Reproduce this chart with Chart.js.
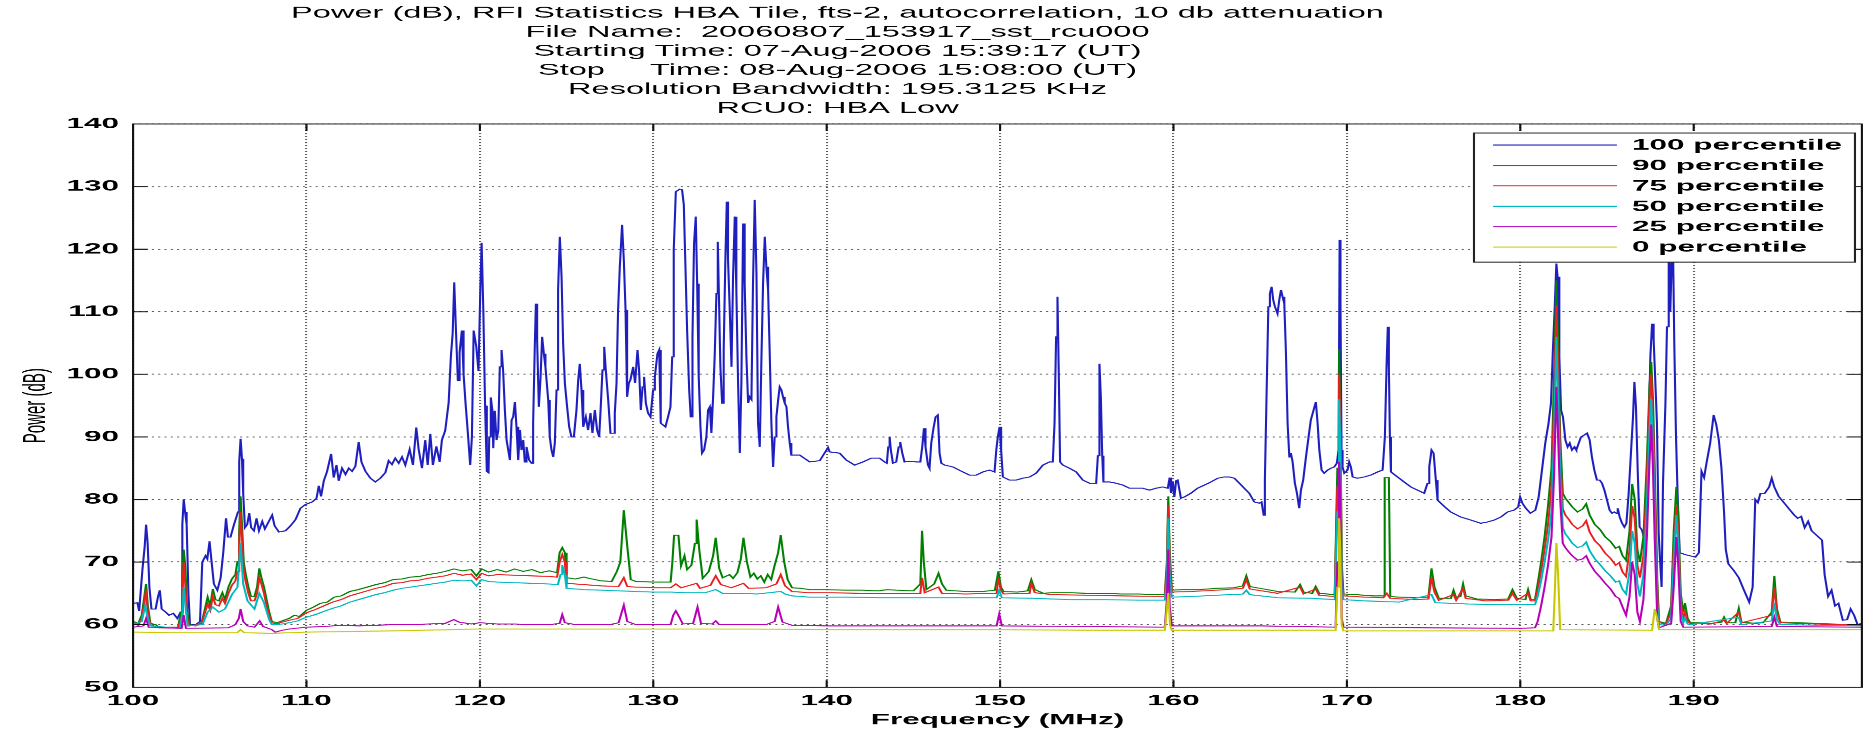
<!DOCTYPE html>
<html lang="en">
<head>
  <meta charset="UTF-8">
  <title>RFI Statistics HBA Tile - RCU0</title>
  <script src="https://cdn.jsdelivr.net/npm/chart.js@4/dist/chart.umd.min.js"></script>
  <style>
    html, body { margin: 0; padding: 0; background: #fff; overflow: hidden; }
    #stage { position: absolute; left: 0; top: 0; width: 888px; height: 731px; transform-origin: 0 0; }
  </style>
</head>
<body>
  <div id="stage"><canvas id="chart" width="888" height="731"></canvas></div>

  <script>
    // Figure is laid out at 888 px and widened to the 1864 px window
    var STAGE_W = 888;
    var STRETCH = 1864 / STAGE_W;
    var FONT = '"Liberation Sans", Arial, Helvetica, sans-serif';

    var titleLines = [
      "Power (dB), RFI Statistics HBA Tile, fts-2, autocorrelation, 10 db attenuation",
      "File Name:  20060807_153917_sst_rcu000",
      "Starting Time: 07-Aug-2006 15:39:17 (UT)",
      "Stop     Time: 08-Aug-2006 15:08:00 (UT)",
      "Resolution Bandwidth: 195.3125 KHz",
      "RCU0: HBA Low"
    ];
    var xTitle = "Frequency (MHz)";
    var yTitle = "Power (dB)";
    var seriesLabels = ["100 percentile", "90 percentile", "75 percentile", "50 percentile", "25 percentile", "0 percentile"];
    var seriesColors = ["#1f1fbf", "#008000", "#e82020", "#00b8c0", "#b800b8", "#c8c800"];

    // [frequency MHz, power dB]
    var p100 = [
      [100.00,63.4],[100.25,63.5],[100.35,62.2],[100.54,68.8],[100.67,72.5],[100.75,76.0],[100.84,73.0],[100.94,66.0],[101.06,62.5],[101.3,62.5],
      [101.44,64.5],[101.54,65.5],[101.65,62.5],[101.88,62.0],[102.07,61.5],[102.32,61.8],[102.55,61.0],[102.74,62.0],[102.84,76.0],[102.92,80.0],
      [103.0,78.0],[103.09,76.0],[103.19,65.0],[103.28,60.0],[103.61,60.0],[103.86,60.5],[103.99,70.0],[104.18,71.0],[104.28,70.5],[104.41,73.3],
      [104.53,70.0],[104.66,66.5],[104.86,65.5],[105.05,67.5],[105.2,71.5],[105.36,77.0],[105.47,74.0],[105.62,74.0],[105.82,76.0],[106.05,78.0],
      [106.12,86.0],[106.2,89.7],[106.28,86.5],[106.35,81.0],[106.45,75.5],[106.58,76.0],[106.7,77.8],[106.81,75.5],[106.97,75.0],[107.12,77.0],
      [107.26,75.0],[107.45,76.5],[107.6,75.3],[107.83,76.5],[108.02,77.5],[108.16,75.8],[108.41,74.8],[108.79,75.0],[109.08,75.8],[109.37,76.8],
      [109.65,78.6],[109.94,79.2],[110.33,79.6],[110.58,80.2],[110.71,82.2],[110.84,80.5],[111.0,83.0],[111.19,84.5],[111.42,87.3],[111.57,83.5],
      [111.73,85.5],[111.86,83.0],[112.05,85.0],[112.25,84.0],[112.44,85.0],[112.63,84.5],[112.82,85.3],[113.01,89.2],[113.17,86.0],[113.4,84.5],
      [113.69,83.4],[113.97,82.8],[114.26,83.4],[114.55,84.3],[114.74,86.2],[114.93,85.6],[115.12,86.6],[115.32,85.8],[115.51,86.8],[115.7,85.5],
      [115.95,88.0],[116.14,85.5],[116.33,91.5],[116.47,88.0],[116.66,85.0],[116.85,89.5],[116.99,85.5],[117.14,90.5],[117.29,85.5],[117.49,88.5],
      [117.68,86.0],[117.81,89.5],[118.0,91.0],[118.2,95.5],[118.33,103.0],[118.43,106.5],[118.52,114.7],[118.62,107.0],[118.73,99.0],[118.83,103.5],
      [118.96,107.0],[119.06,100.0],[119.17,95.5],[119.31,90.5],[119.44,85.5],[119.54,90.0],[119.64,107.0],[119.79,104.5],[119.92,100.5],[120.02,113.0],
      [120.1,121.0],[120.2,110.0],[120.3,95.0],[120.4,84.5],[120.5,84.3],[120.54,90.0],[120.63,96.3],[120.73,94.0],[120.77,88.2],[120.86,94.2],
      [120.96,89.5],[121.06,91.0],[121.15,101.2],[121.25,103.9],[121.34,100.6],[121.44,94.3],[121.54,89.5],[121.63,88.0],[121.73,86.3],[121.83,92.7],
      [121.92,93.2],[122.02,95.6],[122.11,91.6],[122.21,86.3],[122.31,91.1],[122.4,87.9],[122.5,89.5],[122.59,86.0],[122.69,88.4],[122.84,86.3],
      [122.98,85.8],[123.07,92.2],[123.17,104.9],[123.23,111.3],[123.3,105.5],[123.4,94.8],[123.5,99.6],[123.59,106.0],[123.69,103.3],[123.78,101.2],
      [123.94,95.9],[124.03,90.0],[124.13,87.9],[124.23,86.8],[124.32,89.0],[124.42,97.5],[124.51,113.5],[124.61,122.0],[124.71,115.6],[124.8,105.0],
      [124.9,98.6],[125.03,94.8],[125.15,91.6],[125.28,90.0],[125.42,90.0],[125.57,94.3],[125.67,99.1],[125.76,101.7],[125.86,97.5],[125.96,91.6],
      [126.11,93.2],[126.24,91.1],[126.38,93.8],[126.49,90.6],[126.63,94.3],[126.76,91.1],[126.88,90.0],[126.97,94.8],[127.07,100.7],[127.17,104.4],
      [127.26,100.7],[127.4,95.9],[127.53,90.6],[127.68,90.6],[127.78,93.8],[127.88,98.6],[127.97,110.3],[128.07,117.2],[128.2,123.9],[128.3,118.3],
      [128.4,110.3],[128.49,96.4],[128.59,98.6],[128.68,99.1],[128.84,101.2],[128.95,98.6],[129.09,103.9],[129.18,100.7],[129.28,94.3],[129.38,98.0],
      [129.47,99.6],[129.57,95.4],[129.7,93.8],[129.84,93.2],[129.99,97.5],[130.09,99.6],[130.24,103.3],[130.34,103.9],[130.43,92.2],[130.57,91.9],
      [130.7,91.6],[130.85,93.2],[130.99,94.8],[131.09,102.8],[131.18,119.9],[131.3,129.2],[131.53,129.6],[131.66,129.5],[131.76,127.1],[131.85,117.7],
      [131.95,107.1],[132.07,97.5],[132.16,93.2],[132.26,106.0],[132.35,120.9],[132.45,125.2],[132.53,114.5],[132.62,99.6],[132.72,91.6],[132.81,87.4],
      [132.93,87.9],[133.06,90.0],[133.16,94.3],[133.26,94.8],[133.35,90.6],[133.45,96.4],[133.54,102.8],[133.64,112.9],[133.72,121.2],[133.79,111.9],
      [133.87,101.2],[133.97,95.4],[134.06,103.9],[134.16,118.8],[134.24,127.6],[134.31,118.3],[134.41,110.3],[134.51,101.2],[134.6,115.6],[134.7,125.2],
      [134.79,113.5],[134.89,98.6],[134.99,87.4],[135.08,98.6],[135.18,124.1],[135.27,114.5],[135.37,102.8],[135.47,95.4],[135.56,96.4],[135.66,96.0],
      [135.75,114.5],[135.85,127.9],[135.95,116.1],[136.04,92.2],[136.14,88.4],[136.23,101.7],[136.33,114.5],[136.43,122.0],[136.52,117.2],[136.62,113.5],
      [136.71,103.9],[136.81,92.2],[136.91,85.2],[137.0,90.0],[137.1,93.2],[137.2,95.9],[137.29,98.0],[137.39,97.5],[137.48,96.4],[137.58,95.4],
      [137.68,94.8],[137.77,91.6],[137.87,89.0],[137.96,87.1],[138.44,87.1],[139.02,86.0],[139.6,86.2],[140.08,88.3],[140.17,87.6],[140.75,87.4],
      [141.13,86.3],[141.61,85.5],[142.09,86.0],[142.57,86.6],[143.05,86.6],[143.34,86.0],[143.47,85.8],[143.55,88.4],[143.63,90.0],[143.7,87.9],
      [143.82,85.8],[144.01,86.0],[144.15,88.4],[144.24,89.2],[144.36,87.4],[144.49,86.0],[144.78,86.1],[145.17,86.0],[145.4,86.0],[145.51,88.4],
      [145.61,91.4],[145.7,88.4],[145.84,85.5],[145.93,85.0],[146.03,89.0],[146.16,91.4],[146.28,93.2],[146.41,93.5],[146.51,87.4],[146.61,85.8],
      [146.8,85.5],[147.28,85.2],[147.85,84.4],[148.24,83.9],[148.62,83.9],[149.01,84.4],[149.39,84.7],[149.68,84.4],[149.78,87.9],[149.87,90.0],
      [149.97,91.6],[150.06,87.9],[150.16,83.6],[150.54,83.1],[150.93,83.1],[151.31,83.4],[151.7,83.6],[152.08,84.2],[152.47,85.5],[152.85,86.0],
      [153.04,86.0],[153.14,92.2],[153.23,106.0],[153.31,112.4],[153.39,99.1],[153.46,86.0],[153.62,85.5],[154.0,85.0],[154.39,84.4],[154.77,83.1],
      [155.16,82.6],[155.54,82.6],[155.64,87.0],[155.73,101.7],[155.81,96.4],[155.89,87.0],[155.96,82.8],[156.31,82.8],[156.69,82.6],[157.08,82.3],
      [157.46,81.8],[157.85,81.8],[158.23,81.8],[158.61,81.5],[159.0,81.8],[159.38,82.0],[159.67,81.8],[159.78,83.5],[159.86,81.0],[159.96,82.8],
      [160.05,80.4],[160.15,83.0],[160.24,83.1],[160.43,80.2],[160.62,80.4],[161.0,81.0],[161.39,81.8],[161.78,82.3],[162.16,82.8],[162.55,83.4],
      [162.93,83.6],[163.22,83.6],[163.51,83.4],[163.8,82.6],[164.08,81.8],[164.37,81.0],[164.66,79.6],[164.95,79.4],[165.08,79.6],[165.2,77.5],
      [165.27,83.1],[165.35,94.3],[165.47,110.8],[165.56,112.9],[165.66,114.0],[165.75,111.9],[165.85,110.8],[166.0,109.7],[166.1,111.9],[166.2,113.5],
      [166.29,112.4],[166.39,111.3],[166.48,103.9],[166.58,92.2],[166.68,86.8],[166.77,87.4],[166.87,86.0],[167.0,82.6],[167.12,81.0],[167.25,78.6],
      [167.35,81.5],[167.48,83.1],[167.64,86.8],[167.79,90.0],[167.92,92.7],[168.08,94.3],[168.21,95.6],[168.31,92.2],[168.41,87.9],[168.54,84.7],
      [168.69,84.2],[168.89,84.7],[169.08,85.0],[169.27,85.2],[169.42,85.8],[169.52,87.9],[169.58,121.5],[169.63,111.3],[169.69,87.9],[169.75,85.2],
      [169.85,84.2],[170.04,84.7],[170.13,86.0],[170.23,85.2],[170.33,83.6],[170.61,83.4],[171.0,83.6],[171.38,83.9],[171.77,84.4],[172.06,84.7],
      [172.19,90.0],[172.29,101.7],[172.36,107.6],[172.42,101.2],[172.48,90.0],[172.54,84.4],[172.92,83.6],[173.3,82.8],[173.69,82.0],[174.07,81.5],
      [174.46,81.0],[174.65,82.6],[174.75,85.2],[174.88,87.9],[175.0,87.4],[175.13,83.1],[175.23,79.9],[175.61,78.9],[175.99,78.0],[176.57,77.2],
      [177.15,76.7],[177.72,76.2],[178.11,76.4],[178.49,76.7],[178.88,77.2],[179.26,78.0],[179.64,78.3],[179.88,78.8],[179.99,80.4],[180.12,79.4],
      [180.32,78.6],[180.58,77.8],[180.87,78.3],[181.06,80.4],[181.25,84.7],[181.44,89.0],[181.63,92.2],[181.77,95.4],[181.88,103.9],[181.98,110.3],
      [182.08,117.7],[182.15,115.6],[182.25,102.8],[182.35,94.3],[182.46,93.2],[182.6,89.5],[182.73,88.4],[182.85,89.0],[182.98,87.9],[183.12,88.4],
      [183.23,87.9],[183.37,89.0],[183.5,90.0],[183.69,90.3],[183.85,90.6],[184.0,89.5],[184.13,86.8],[184.27,84.7],[184.42,83.1],[184.58,83.1],
      [184.71,82.6],[184.85,81.5],[185.0,79.9],[185.15,78.3],[185.29,77.8],[185.42,78.0],[185.54,77.8],[185.62,78.6],[185.73,77.2],[185.87,76.2],
      [186.0,75.6],[186.12,76.2],[186.25,81.0],[186.38,87.4],[186.5,93.2],[186.58,98.8],[186.67,94.8],[186.77,84.7],[186.88,75.6],[187.02,75.1],
      [187.12,74.1],[187.21,77.2],[187.31,80.4],[187.4,90.6],[187.5,102.8],[187.6,108.1],[187.69,105.5],[187.79,98.6],[187.88,92.2],[187.98,74.6],
      [188.08,69.3],[188.15,66.0],[188.23,82.6],[188.37,95.4],[188.46,107.6],[188.56,124.0],[188.65,110.0],[188.79,124.0],[188.88,105.0],[188.98,90.0],
      [189.08,80.0],[189.19,71.5],[189.5,71.2],[189.8,71.0],[190.1,70.8],[190.3,71.5],[190.45,84.5],[190.6,83.5],[190.75,86.0],[190.95,89.0],
      [191.15,93.5],[191.3,92.0],[191.45,89.5],[191.6,85.0],[191.75,78.0],[191.85,72.0],[192.0,69.7],[192.3,68.7],[192.6,67.5],[192.9,65.5],
      [193.2,63.6],[193.4,66.0],[193.55,80.0],[193.7,79.5],[193.85,81.0],[194.1,81.0],[194.35,82.0],[194.5,83.4],[194.65,82.0],[194.9,80.5],
      [195.2,79.5],[195.5,78.5],[195.8,77.5],[196.0,77.0],[196.2,77.3],[196.4,75.5],[196.6,76.5],[196.8,75.0],[197.0,74.5],[197.2,74.0],
      [197.4,73.5],[197.55,68.0],[197.75,64.5],[197.95,65.5],[198.15,63.0],[198.35,63.4],[198.6,60.7],[198.85,60.8],[199.05,62.5],[199.25,61.5],
      [199.45,60.0],[199.7,60.2]
    ];

    var p90 = [
      [100,60.5],[100.3,60.2],[100.5,61.5],[100.65,64.5],[100.75,66.5],[100.85,63],[101.0,60.2],[101.3,60],[101.5,59.6],[102.6,59.6],
      [102.75,62],[102.85,68],[102.92,72],[103.02,69],[103.12,62],[103.25,60],[103.6,59.8],[103.95,60.3],[104.1,62],[104.3,64.4],
      [104.45,63],[104.6,65.7],[104.75,64],[104.95,63.8],[105.15,65.1],[105.3,64],[105.5,66],[105.7,67.3],[105.9,68],[106.02,70.1],
      [106.12,75],[106.2,80.5],[106.28,76],[106.38,70],[106.5,68],[106.65,66],[106.8,64.5],[107.0,64.5],[107.15,66],[107.28,69],
      [107.4,67.5],[107.55,66],[107.7,64],[107.85,62],[108.0,60.5],[108.3,60.3],[108.6,60.6],[109.0,61.0],[109.3,61.5],[109.6,61.3],
      [110.0,62.3],[110.4,62.8],[110.8,63.4],[111.2,63.6],[111.6,64.4],[112.0,64.6],[112.5,65.3],[113.0,65.6],[113.5,66.0],[114.0,66.4],
      [114.5,66.7],[115.0,67.2],[115.5,67.3],[116.0,67.6],[116.5,67.7],[117.0,68.0],[117.5,68.2],[118.0,68.5],[118.5,68.9],[119.0,68.6],
      [119.5,68.8],[119.8,67.8],[120.1,68.9],[120.5,68.4],[121.0,68.8],[121.5,68.4],[122.0,68.9],[122.5,68.5],[123.0,68.8],[123.5,68.3],
      [124.0,68.6],[124.45,68.3],[124.6,71.5],[124.75,72.3],[124.9,71.5],[125.0,67.5],[125.5,67.3],[126.0,67.6],[126.3,67.4],[127.0,67.0],
      [127.6,66.9],[127.9,68.5],[128.1,70],[128.3,78.3],[128.5,72.5],[128.7,67.2],[129.0,66.9],[130.0,66.8],[131.0,66.8],[131.1,70],
      [131.2,74.3],[131.45,74.3],[131.6,69.4],[131.8,71],[131.95,68.8],[132.2,69.5],[132.4,73],[132.5,76.8],[132.65,72],[132.85,67.4],
      [133.2,68.5],[133.45,71],[133.6,73.9],[133.8,69],[134.0,67.5],[134.4,68],[134.6,67.4],[134.85,68.3],[135.05,70.5],[135.2,73.9],
      [135.4,70],[135.6,67.6],[135.8,68.2],[136.0,67.3],[136.2,67.8],[136.4,66.8],[136.6,68],[136.8,67.2],[137.0,69.5],[137.2,71.5],
      [137.35,74.3],[137.55,70],[137.75,67.2],[138.0,65.9],[138.5,65.8],[139.0,65.6],[140.0,65.6],[141.0,65.5],[142.0,65.5],[143.0,65.4],
      [143.5,65.6],[144.0,65.5],[145.0,65.4],[145.4,66.5],[145.5,75.0],[145.6,70],[145.75,65.6],[146.2,66.5],[146.45,68.2],[146.65,66.5],
      [146.9,65.5],[148.0,65.3],[149.0,65.3],[149.7,65.5],[149.9,68.5],[150.05,66],[150.2,65.3],[151.0,65.2],[151.6,65.4],[151.8,67.2],
      [152.0,65.6],[152.5,65.0],[153.0,65.1],[154.0,65.1],[155.0,65.0],[156.0,65.0],[157.0,64.9],[158.0,64.9],[159.0,64.8],[159.5,64.8],
      [159.62,70],[159.7,80.5],[159.78,72],[159.9,65.5],[160.5,65.6],[161.5,65.6],[162.5,65.8],[163.5,65.9],[164.0,66.2],[164.2,67.8],
      [164.4,66.1],[165.0,65.8],[166.0,65.3],[167.0,65.2],[167.3,66.4],[167.5,65.2],[168.0,65.0],[168.2,66.1],[168.4,65.0],[169.3,64.8],
      [169.45,85],[169.55,104],[169.62,95],[169.7,70],[169.8,64.9],[170.5,64.8],[171.5,64.6],[172.1,64.6],[172.18,83.5],[172.3,83.5],
      [172.42,83.5],[172.5,64.5],[173.0,64.4],[174.0,64.3],[174.7,64.4],[174.88,69.0],[175.05,66.0],[175.3,64.2],[176.0,64.2],[176.15,65.5],
      [176.3,64.3],[176.55,64.5],[176.7,66.5],[176.85,64.6],[177.5,64.1],[178.5,64.0],[179.3,64.1],[179.55,65.6],[179.8,64.2],[180.3,64.0],
      [180.45,65.6],[180.6,64.0],[180.85,64.0],[181.0,66.5],[181.2,70],[181.4,74],[181.6,79],[181.8,85],[181.95,100],[182.08,115.0],
      [182.18,105],[182.3,90],[182.45,81],[182.6,80.2],[182.8,79.5],[183.0,78.8],[183.3,78.0],[183.6,78.5],[183.8,79.3],[184.0,77.5],
      [184.3,76.0],[184.6,75.2],[184.9,74.0],[185.2,73.3],[185.5,72.2],[185.7,72.5],[185.9,71.0],[186.1,70.3],[186.3,75],[186.45,82.5],
      [186.6,80],[186.75,72],[186.9,70],[187.1,74],[187.3,86],[187.45,98],[187.55,102],[187.65,96],[187.75,85],[187.9,67],
      [188.0,60.5],[188.4,60.2],[188.7,63],[188.85,75],[189.0,82],[189.1,78],[189.25,65],[189.4,62],[189.5,63.4],[189.65,61],
      [189.8,60.3],[190.5,60.3],[191.0,60.2],[191.6,60.4],[191.75,61.2],[191.9,60.3],[192.4,60.3],[192.6,62.6],[192.75,60.4],[193.5,60.2],
      [194.0,60.3],[194.5,62],[194.65,67.8],[194.8,62.5],[195.0,60.4],[196.0,60.3],[197.0,60.2],[198.0,60.1],[199.0,60.0],[199.7,60.0]
    ];

    var p75 = [
      [100,60.2],[100.3,59.9],[100.5,61],[100.65,63.5],[100.75,65.5],[100.85,62],[101.0,60],[101.5,59.5],[102.6,59.5],[102.75,61],
      [102.85,66],[102.92,70],[103.02,66],[103.12,61],[103.25,59.8],[103.95,60.1],[104.1,61.5],[104.3,63.3],[104.45,62.3],[104.6,64.5],
      [104.75,63.2],[104.95,63],[105.15,64.2],[105.3,63.4],[105.5,65],[105.7,66.3],[105.9,67],[106.02,68.5],[106.12,73],[106.2,78],
      [106.28,74],[106.38,68.5],[106.5,66.8],[106.65,65],[106.8,63.8],[107.0,63.8],[107.15,65],[107.28,67.5],[107.4,66.5],[107.55,65],
      [107.7,63],[107.85,61.5],[108.0,60.3],[108.3,60.1],[108.6,60.4],[109.0,60.7],[109.5,61.0],[110.0,61.9],[110.5,62.4],[111.0,63.0],
      [111.5,63.6],[112.0,64.0],[112.5,64.6],[113.0,65.0],[113.5,65.4],[114.0,65.8],[114.5,66.1],[115.0,66.6],[115.5,66.7],[116.0,67.0],
      [116.5,67.1],[117.0,67.4],[117.5,67.6],[118.0,67.8],[118.5,68.2],[119.0,67.9],[119.5,68.1],[119.8,67.2],[120.1,68.2],[120.5,67.8],
      [121.0,68.0],[122.0,67.9],[123.0,67.8],[124.0,67.7],[124.45,67.6],[124.6,70],[124.75,71.2],[124.9,70],[125.0,66.6],[126.0,66.4],
      [127.0,66.2],[128.0,66.1],[128.3,67.5],[128.5,66.1],[129.0,66.0],[130.0,65.9],[131.0,65.9],[131.3,66.5],[131.6,65.9],[132.5,66.6],
      [132.7,65.8],[133.3,66.3],[133.6,67.8],[133.9,66.4],[134.5,65.9],[135.2,66.6],[135.5,65.8],[136.5,65.9],[137.1,66.5],[137.35,68.0],
      [137.6,66.2],[138.0,65.3],[139.0,65.1],[140.0,65.1],[142.0,65.0],[144.0,65.0],[145.4,65.0],[145.5,67.5],[145.65,65.1],[146.45,66.0],
      [146.65,65.0],[148.0,64.9],[149.8,65.0],[149.9,67.5],[150.05,65.5],[150.2,64.9],[151.7,65.0],[151.8,66.6],[152.0,65.1],[153.0,64.8],
      [155.0,64.7],[157.0,64.6],[159.5,64.5],[159.62,69],[159.7,79],[159.78,70],[159.9,65.2],[161.0,65.3],[162.5,65.5],[164.0,65.8],
      [164.2,67.2],[164.4,65.7],[166.0,65.0],[167.3,66.0],[167.5,64.9],[168.2,65.7],[168.4,64.7],[169.3,64.5],[169.45,82],[169.55,100],
      [169.62,92],[169.7,68],[169.8,64.6],[171.0,64.4],[172.1,64.3],[172.3,65.0],[172.5,64.2],[174.0,64.0],[174.7,64.1],[174.88,67.5],
      [175.05,65.2],[175.3,63.9],[176.15,64.8],[176.3,63.9],[176.7,65.8],[176.85,64.2],[178.0,63.8],[179.3,63.9],[179.55,65.0],[179.8,63.9],
      [180.45,65.0],[180.6,63.8],[180.85,63.8],[181.0,65.5],[181.2,68.5],[181.4,72],[181.6,76],[181.8,82],[181.95,95],[182.08,111],
      [182.18,100],[182.3,87],[182.45,78.5],[182.6,77.5],[182.8,76.8],[183.0,76.0],[183.3,75.3],[183.6,75.8],[183.8,76.6],[184.0,74.8],
      [184.3,73.4],[184.6,72.6],[184.9,71.4],[185.2,70.6],[185.5,69.5],[185.7,69.9],[185.9,68.4],[186.1,67.7],[186.3,72],[186.45,79],
      [186.6,77],[186.75,69.5],[186.9,67.5],[187.1,71],[187.3,83],[187.45,96],[187.55,100],[187.65,93],[187.75,82],[187.9,65],
      [188.0,60.3],[188.4,60.1],[188.7,62],[188.85,72],[189.0,79],[189.1,75],[189.25,63.5],[189.4,61],[189.5,62],[189.65,60.5],
      [189.8,60.2],[191.0,60.1],[191.75,60.7],[191.9,60.2],[192.6,62.0],[192.75,60.3],[194.5,61.5],[194.65,66.0],[194.8,62],[195.0,60.3],
      [197.0,60.1],[199.7,59.9]
    ];

    var p50 = [
      [100,60.0],[100.5,60.5],[100.7,63],[100.85,61],[101.0,59.8],[102.7,59.4],[102.85,62],[102.92,66],[103.02,63],[103.15,59.8],
      [104.0,60.0],[104.3,62],[104.6,62.8],[104.95,62],[105.3,62.5],[105.7,64.8],[106.02,66],[106.2,73],[106.35,66.5],[106.6,63.8],
      [107.0,62.5],[107.28,65],[107.55,63.5],[107.85,60.8],[108.0,60.0],[108.6,60.1],[109.0,60.3],[109.5,60.6],[110.0,61.2],[110.5,61.6],
      [111.0,62.1],[111.5,62.6],[112.0,63.0],[112.5,63.6],[113.0,64.0],[113.5,64.4],[114.0,64.8],[114.5,65.1],[115.0,65.5],[115.5,65.8],
      [116.0,66.0],[116.5,66.2],[117.0,66.4],[117.5,66.6],[118.0,66.8],[118.5,67.1],[119.0,67.0],[119.5,67.1],[119.8,66.2],[120.1,67.2],
      [120.5,66.9],[121.0,66.8],[122.0,66.7],[123.0,66.6],[124.0,66.5],[124.5,66.4],[124.65,68],[124.75,69.5],[124.9,68],[125.0,65.8],
      [126.0,65.6],[127.0,65.5],[128.0,65.4],[129.0,65.3],[130.0,65.2],[131.0,65.2],[132.0,65.1],[133.0,65.1],[133.6,65.6],[134.0,65.0],
      [135.0,65.0],[136.0,64.9],[137.35,65.3],[137.6,64.9],[138.0,64.6],[139.0,64.4],[141.0,64.4],[143.0,64.3],[145.0,64.3],[147.0,64.3],
      [149.8,64.3],[149.95,65.5],[150.1,64.3],[152.0,64.2],[154.0,64.0],[156.0,64.0],[158.0,63.9],[159.5,63.9],[159.62,67],[159.7,77],
      [159.78,68],[159.9,64.4],[161.0,64.5],[162.5,64.7],[164.0,64.9],[164.2,65.5],[164.4,64.8],[166.0,64.3],[168.0,64.2],[169.3,64.0],
      [169.45,78],[169.55,96],[169.62,88],[169.7,66],[169.8,64.0],[171.0,63.8],[173.0,63.6],[174.88,64.8],[175.1,63.5],[177.0,63.3],
      [179.0,63.2],[180.85,63.2],[181.0,64.5],[181.2,67],[181.4,70],[181.6,73.5],[181.8,78],[181.95,90],[182.08,106],[182.18,96],
      [182.3,84],[182.45,75.5],[182.6,74.5],[182.8,73.8],[183.0,73.0],[183.3,72.3],[183.6,72.6],[183.8,73.2],[184.0,71.8],[184.3,70.5],
      [184.6,69.6],[184.9,68.6],[185.2,67.8],[185.5,66.8],[185.7,67.0],[185.9,65.6],[186.1,64.9],[186.3,68.5],[186.45,75],[186.6,73],
      [186.75,66.5],[186.9,64.5],[187.1,68],[187.3,79],[187.45,91],[187.55,96],[187.65,89],[187.75,78],[187.9,63],[188.0,60.0],
      [188.4,59.9],[188.7,61],[188.85,70],[189.0,77.5],[189.1,73],[189.25,62],[189.4,60.3],[189.5,61],[189.65,60.1],[189.8,60.0],
      [192.6,61.2],[192.75,60.0],[194.5,60.6],[194.65,63.5],[194.8,60.8],[195.0,60.0],[199.7,59.8]
    ];

    var p25 = [
      [100,59.6],[100.6,59.8],[100.75,61],[100.9,59.6],[102.8,59.4],[102.92,61.5],[103.05,59.4],[105.5,59.5],[105.9,60],[106.1,61],
      [106.2,62.5],[106.35,60.5],[106.6,59.8],[107.0,59.6],[107.3,60.6],[107.5,59.7],[108.0,59.2],[108.2,58.8],[108.6,59.1],[109.0,59.3],
      [110.0,59.6],[111.0,59.7],[112.0,59.9],[113.0,59.8],[114.0,59.9],[115.0,60.0],[116.0,60.0],[117.0,60.1],[118.0,60.2],[118.5,60.8],
      [118.8,60.4],[119.5,60.1],[120.0,60.3],[121.0,60.1],[122.0,60.1],[123.0,60.0],[124.0,60.0],[124.6,60.2],[124.75,61.6],[124.9,60.3],
      [125.5,60.0],[127.5,60.0],[128.0,60.3],[128.3,63.1],[128.5,60.5],[129.0,60.0],[131.0,60.0],[131.15,61.5],[131.3,62.2],[131.5,61.2],
      [131.7,60.1],[132.3,60.2],[132.55,62.8],[132.75,60.2],[133.4,60.1],[133.6,60.6],[133.8,60.0],[135.0,60.0],[136.5,60.0],[137.0,60.5],
      [137.2,62.8],[137.45,60.4],[138.0,59.9],[140.0,59.8],[145.0,59.8],[149.8,59.8],[149.95,61.7],[150.1,59.8],[155.0,59.7],[159.5,59.6],
      [159.62,64],[159.7,72],[159.78,63],[159.9,59.8],[165.0,59.8],[169.35,59.6],[169.45,70],[169.55,86],[169.62,80],[169.7,61],
      [169.8,59.6],[175.0,59.5],[180.0,59.4],[180.85,59.5],[181.0,60.5],[181.2,63],[181.4,66],[181.6,69.5],[181.8,74],[181.95,84],
      [182.08,98],[182.18,90],[182.3,80],[182.45,73],[182.6,72.3],[182.8,71.6],[183.0,71.0],[183.3,70.3],[183.6,70.5],[183.8,71.0],
      [184.0,69.8],[184.3,68.5],[184.6,67.6],[184.9,66.6],[185.2,65.7],[185.5,64.5],[185.7,64.2],[185.9,62.8],[186.1,61.5],[186.3,64.5],
      [186.45,70],[186.6,68],[186.75,62],[186.9,60.5],[187.1,64],[187.3,74],[187.45,86],[187.55,92],[187.65,85],[187.75,74],
      [187.9,61],[188.0,59.5],[188.7,60.2],[188.85,66],[189.0,74],[189.1,70],[189.25,60.5],[189.4,59.6],[194.5,59.7],[194.65,61.2],
      [194.8,59.7],[199.7,59.6]
    ];

    var p0 = [
      [100,58.8],[103,58.7],[106,58.7],[106.2,59.2],[106.4,58.7],[108,58.6],[110,58.8],[115,59.0],[120,59.3],[125,59.3],
      [130,59.3],[135,59.3],[140,59.2],[145,59.2],[150,59.2],[155,59.1],[159.5,59.1],[159.6,62],[159.7,65],[159.8,60],
      [159.9,59.1],[165,59.1],[169.35,59.1],[169.45,66],[169.55,77],[169.62,72],[169.7,60],[169.8,59.0],[175,59.0],[181.9,59.0],
      [182.0,66],[182.08,73],[182.18,68],[182.3,59.2],[187.6,59.1],[187.75,62.5],[187.9,61],[188.0,59.2],[190,59.2],[195,59.2],
      [199.7,59.2]
    ];

    var series = [p100, p90, p75, p50, p25, p0];

    var datasets = series.map(function (pts, i) {
      return {
        label: seriesLabels[i],
        data: pts.map(function (p) { return { x: p[0], y: p[1] }; }),
        borderColor: seriesColors[i],
        borderWidth: 1,
        pointRadius: 0,
        tension: 0,
        fill: false,
        // later percentiles are painted over earlier ones
        order: series.length - i
      };
    });

    /* Six centred title lines above the axes */
    var titleBlock = {
      id: 'titleBlock',
      afterDraw: function (chart) {
        var ctx = chart.ctx;
        ctx.save();
        ctx.font = '15.5px ' + FONT;
        ctx.fillStyle = '#000';
        ctx.textAlign = 'center';
        ctx.textBaseline = 'middle';
        titleLines.forEach(function (line, i) {
          ctx.fillText(line, 399, 13.5 + i * 19);
        });
        ctx.restore();
      }
    };

    /* Box around the axes with inward tick marks on all four sides */
    var axesBox = {
      id: 'axesBox',
      afterDatasetsDraw: function (chart) {
        var ctx = chart.ctx, a = chart.chartArea;
        var xs = chart.scales.x, ys = chart.scales.y;
        ctx.save();
        ctx.strokeStyle = '#111';
        ctx.lineWidth = 1;
        ctx.beginPath();
        xs.ticks.forEach(function (t) {
          var px = xs.getPixelForValue(t.value);
          ctx.moveTo(px, a.bottom); ctx.lineTo(px, a.bottom - 7);
          ctx.moveTo(px, a.top); ctx.lineTo(px, a.top + 7);
        });
        ys.ticks.forEach(function (t) {
          var py = ys.getPixelForValue(t.value);
          ctx.moveTo(a.left, py); ctx.lineTo(a.left + 7, py);
          ctx.moveTo(a.right, py); ctx.lineTo(a.right - 7, py);
        });
        ctx.rect(a.left, a.top, a.right - a.left, a.bottom - a.top);
        ctx.stroke();
        ctx.restore();
      }
    };

    /* Legend box in the upper right corner of the axes */
    var boxLegend = {
      id: 'boxLegend',
      afterDraw: function (chart) {
        var ctx = chart.ctx, a = chart.chartArea;
        var w = 181.5, h = 129;
        var left = a.right - 3.3 - w, top = a.top + 9;
        ctx.save();
        ctx.fillStyle = '#fff';
        ctx.fillRect(left, top, w, h);
        ctx.strokeStyle = '#222';
        ctx.lineWidth = 1;
        ctx.strokeRect(left, top, w, h);
        ctx.font = 'bold 15px ' + FONT;
        ctx.textBaseline = 'middle';
        ctx.textAlign = 'left';
        chart.data.datasets.forEach(function (ds, i) {
          var cy = top + 12 + i * 20.4;
          ctx.strokeStyle = ds.borderColor;
          ctx.beginPath();
          ctx.moveTo(left + 9.1, cy);
          ctx.lineTo(left + 68.1, cy);
          ctx.stroke();
          ctx.fillStyle = '#000';
          ctx.fillText(ds.label, left + 75.3, cy + 0.5);
        });
        ctx.restore();
      }
    };

    document.getElementById('stage').style.transform = 'scaleX(' + STRETCH + ')';

    var tickFont = { family: FONT, size: 15, weight: 'bold' };

    new Chart(document.getElementById('chart'), {
      type: 'line',
      data: { datasets: datasets },
      options: {
        responsive: false,
        animation: false,
        devicePixelRatio: STRETCH,
        layout: { padding: { top: 124, right: 1, bottom: 0, left: 0 } },
        plugins: {
          legend: { display: false },
          tooltip: { enabled: false },
          title: { display: false }
        },
        scales: {
          x: {
            type: 'linear',
            min: 100,
            max: 199.7,
            afterFit: function (scale) { scale.height = 44; },
            ticks: { stepSize: 10, includeBounds: false, padding: 5, color: '#000', font: tickFont, maxRotation: 0, autoSkip: false },
            grid: { color: 'rgba(0,0,0,0.65)', lineWidth: 1, drawTicks: false },
            border: { display: false, dash: [1, 2] },
            title: { display: true, text: xTitle, color: '#000', font: tickFont, padding: { top: 0, bottom: 2 } }
          },
          y: {
            min: 50,
            max: 140,
            afterFit: function (scale) { scale.width = 63.4; },
            ticks: { stepSize: 10, padding: 6.7, color: '#000', font: tickFont },
            grid: { color: 'rgba(0,0,0,0.65)', lineWidth: 1, drawTicks: false },
            border: { display: false, dash: [1, 2] },
            title: { display: true, text: yTitle, color: '#000', font: { family: FONT, size: 15 }, padding: { top: 8.1, bottom: 0 } }
          }
        }
      },
      plugins: [titleBlock, axesBox, boxLegend]
    });
  </script>
</body>
</html>
